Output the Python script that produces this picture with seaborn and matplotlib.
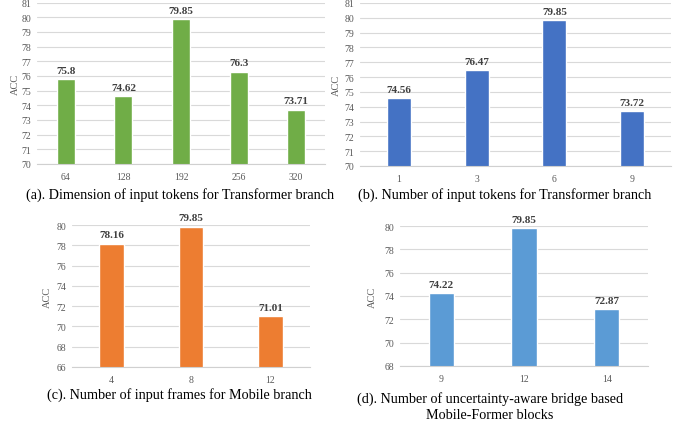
"""
消融实验柱状图 (四个子图)
"""

import matplotlib
matplotlib.use('Agg')
import matplotlib.pyplot as plt
import seaborn as sns
import pandas as pd

# 数据
dim_tokens = ['64', '128', '192', '256', '320']
acc_dim = [75.8, 74.62, 79.85, 76.3, 73.71]

num_tokens = ['1', '3', '6', '9']
acc_num = [74.56, 76.47, 79.85, 73.72]

num_frames = ['4', '8', '12']
acc_frames = [78.16, 79.85, 71.01]

num_blocks = ['9', '12', '14']
acc_blocks = [74.22, 79.85, 72.87]

captions = [
    '(a). Dimension of input tokens for Transformer branch',
    '(b). Number of input tokens for Transformer branch',
    '(c). Number of input frames for Mobile branch',
    '(d). Number of uncertainty-aware bridge based\nMobile-Former blocks',
]

sns.set_style('white')
plt.rcParams['font.family'] = ['Liberation Serif', 'DejaVu Serif']

W, H = 687, 427
fig = plt.figure(figsize=(W / 100, H / 100), dpi=100)


def px_axes(left, right, top, bottom):
    return fig.add_axes([left / W, 1 - bottom / H, (right - left) / W, (bottom - top) / H])


panels = [
    # (类别, 数值, 颜色, 坐标框, y范围, y刻度步长, ylabel横坐标)
    (dim_tokens, acc_dim, '#70AD47', (37, 325, 3.5, 165), (70, 81), 1, -0.058),
    (num_tokens, acc_num, '#4472C4', (360, 671, 4, 167), (70, 81), 1, -0.061),
    (num_frames, acc_frames, '#ED7D31', (72, 310, 226, 368), (66, 80), 2, -0.084),
    (num_blocks, acc_blocks, '#5B9BD5', (400, 648, 227, 367), (68, 80), 2, -0.093),
]

for cats, vals, color, box, ylim, step, lab_x in panels:
    ax = px_axes(*box)
    df = pd.DataFrame({'x': cats, 'acc': vals})
    sns.barplot(data=df, x='x', y='acc', order=cats, color=color, width=0.31,
                saturation=1, ax=ax, zorder=2)
    ax.set_ylim(*ylim)
    ax.set_yticks(range(ylim[0], ylim[1] + 1, step))
    ax.grid(axis='y', color='#d9d9d9', linewidth=0.8, zorder=0)
    ax.grid(axis='x', visible=False)
    for s in ['left', 'right', 'top']:
        ax.spines[s].set_visible(False)
    ax.spines['bottom'].set_color('#d0d0d0')
    ax.spines['bottom'].set_linewidth(0.8)
    ax.tick_params(length=0, labelsize=7, colors='#595959')
    ax.tick_params(axis='y', pad=4)
    ax.tick_params(axis='x', pad=6)
    ax.set_xlabel('')
    ax.set_ylabel('ACC', fontsize=7.5, color='#595959')
    ax.yaxis.set_label_coords(lab_x, 0.5)
    for c in ax.containers:
        ax.bar_label(c, labels=[f'{v:g}' for v in vals], padding=3, fontsize=8,
                     fontweight='bold', color='#404040', clip_on=False)

cap_kw = dict(fontsize=10.2, color='black', ha='center', va='center')
fig.text(180 / W, 1 - 195 / H, captions[0], **cap_kw)
fig.text(505 / W, 1 - 195 / H, captions[1], **cap_kw)
fig.text(179 / W, 1 - 395 / H, captions[2], **cap_kw)
fig.text(490 / W, 1 - 407 / H, captions[3], linespacing=1.35, **cap_kw)

fig.savefig('out.png', dpi=100)
